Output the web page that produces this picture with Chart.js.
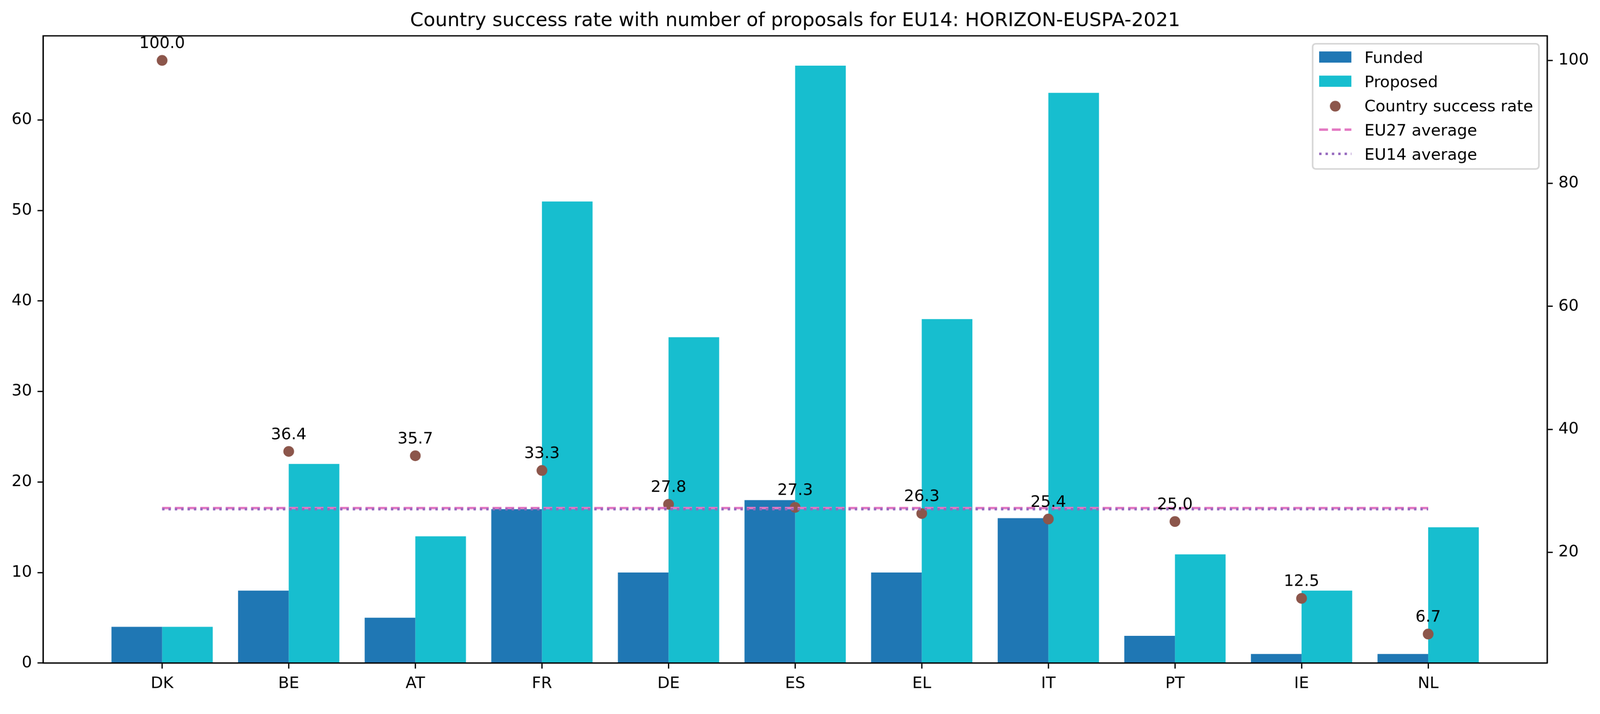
<!DOCTYPE html>
<html>
<head>
<meta charset="utf-8">
<script src="https://cdn.jsdelivr.net/npm/chart.js@4/dist/chart.umd.min.js"></script>
<style>
html,body{margin:0;padding:0;background:#fff;overflow:hidden;width:100%;height:100%}
canvas{display:block;width:100vw;height:43.8129vw}
</style>
</head>
<body>
<canvas id="c" width="4170" height="1827" style="width:100vw;height:43.8129vw"></canvas>
<script>
// ---- data ----
const countries = ['DK','BE','AT','FR','DE','ES','EL','IT','PT','IE','NL'];
const funded    = [4, 8, 5, 17, 10, 18, 10, 16, 3, 1, 1];
const proposed  = [4, 22, 14, 51, 36, 66, 38, 63, 12, 8, 15];
const successRate = [100.0, 36.4, 35.7, 33.3, 27.8, 27.3, 26.3, 25.4, 25.0, 12.5, 6.7];
const eu27Average = 27.2;
const eu14Average = 27.0;
const countTicks = [0, 10, 20, 30, 40, 50, 60];
const rateTicks  = [20, 40, 60, 80, 100];
const titleText = 'Country success rate with number of proposals for EU14: HORIZON-EUSPA-2021';
const legendLabels = ['Funded', 'Proposed', 'Country success rate', 'EU27 average', 'EU14 average'];

// ---- style ----
const PT = 300 / 72;
const FONT = '"DejaVu Sans", "Liberation Sans", sans-serif';
const FS = 10 * PT;
const C_FUNDED = '#1f77b4', C_PROPOSED = '#17becf', C_RATE = '#8c564b', C_EU27 = '#e377c2', C_EU14 = '#9467bd';
const AREA = {left: 112.3, right: 4032.3, top: 93.3, bottom: 1726.7};
const W = 4170, H = 1827;
const SPINE = 0.8 * PT;
const TICKLEN = 3.5 * PT;

const idx = countries.map((_, i) => i);
const lastIdx = countries.length - 1;

const tickGrid = {display: true, drawOnChartArea: false, drawTicks: true, tickLength: TICKLEN, tickWidth: SPINE, tickColor: '#000'};
const tickBorder = {display: true, color: '#000', width: SPINE};
const tickFont = {family: FONT, size: FS};

const overlay = {
  id: 'overlay',
  afterDatasetsDraw(chart) {
    const ctx = chart.ctx, ca = chart.chartArea;
    ctx.save();
    // frame
    ctx.strokeStyle = '#000';
    ctx.lineWidth = SPINE;
    ctx.strokeRect(ca.left, ca.top, ca.right - ca.left, ca.bottom - ca.top);
    // point labels
    const meta = chart.getDatasetMeta(2);
    ctx.fillStyle = '#000';
    ctx.font = FS + 'px ' + FONT;
    ctx.textAlign = 'center';
    ctx.textBaseline = 'alphabetic';
    meta.data.forEach((p, i) => {
      ctx.fillText(successRate[i].toFixed(1), p.x, p.y - 32);
    });
    ctx.restore();
  },
  afterDraw(chart) {
    const ctx = chart.ctx, ca = chart.chartArea;
    ctx.save();
    // title
    ctx.fillStyle = '#000';
    ctx.font = (12 * PT) + 'px ' + FONT;
    ctx.textAlign = 'center';
    ctx.textBaseline = 'alphabetic';
    ctx.fillText(titleText, (ca.left + ca.right) / 2, ca.top - 6 * PT);
    // legend
    const L = {left: 3421, top: 114, right: 4010.7, bottom: 440, r: 8};
    ctx.beginPath();
    ctx.roundRect(L.left, L.top, L.right - L.left, L.bottom - L.top, L.r);
    ctx.fillStyle = 'rgba(255,255,255,0.8)';
    ctx.fill();
    ctx.lineWidth = 1.0 * PT;
    ctx.strokeStyle = '#d6d6d6';
    ctx.stroke();
    const hx0 = 3438, hx1 = 3522, tx = 3556;
    const rowY = legendLabels.map((_, i) => 148.5 + 63 * i);
    // handles
    ctx.fillStyle = C_FUNDED;
    ctx.fillRect(hx0, rowY[0] - 14.6, hx1 - hx0, 29.2);
    ctx.fillStyle = C_PROPOSED;
    ctx.fillRect(hx0, rowY[1] - 14.6, hx1 - hx0, 29.2);
    ctx.fillStyle = C_RATE;
    ctx.beginPath();
    ctx.arc((hx0 + hx1) / 2, rowY[2] + 2, 14, 0, Math.PI * 2);
    ctx.fill();
    ctx.lineWidth = 1.5 * PT;
    ctx.lineCap = 'butt';
    ctx.strokeStyle = C_EU27;
    ctx.setLineDash([3.7 * 1.5 * PT, 1.6 * 1.5 * PT]);
    ctx.beginPath(); ctx.moveTo(hx0, rowY[3]); ctx.lineTo(hx1, rowY[3]); ctx.stroke();
    ctx.strokeStyle = C_EU14;
    ctx.setLineDash([1 * 1.5 * PT, 1.65 * 1.5 * PT]);
    ctx.beginPath(); ctx.moveTo(hx0, rowY[4]); ctx.lineTo(hx1, rowY[4]); ctx.stroke();
    ctx.setLineDash([]);
    // texts
    ctx.fillStyle = '#000';
    ctx.font = FS + 'px ' + FONT;
    ctx.textAlign = 'left';
    legendLabels.forEach((t, i) => ctx.fillText(t, tx, rowY[i] + 15));
    ctx.restore();
  }
};

new Chart(document.getElementById('c'), {
  type: 'bar',
  data: {
    datasets: [
      {type: 'bar', label: 'Funded', data: idx.map(i => ({x: i, y: funded[i]})), backgroundColor: C_FUNDED,
       borderWidth: 0, yAxisID: 'y', xAxisID: 'x', order: 3, categoryPercentage: 0.8, barPercentage: 1.0},
      {type: 'bar', label: 'Proposed', data: idx.map(i => ({x: i, y: proposed[i]})), backgroundColor: C_PROPOSED,
       borderWidth: 0, yAxisID: 'y', xAxisID: 'x', order: 3, categoryPercentage: 0.8, barPercentage: 1.0},
      {type: 'scatter', label: 'Country success rate', data: idx.map(i => ({x: i, y: successRate[i]})),
       backgroundColor: C_RATE, borderColor: C_RATE, pointRadius: 12.5, pointBorderWidth: 3, pointHoverRadius: 12.5,
       showLine: false, yAxisID: 'y1', xAxisID: 'x', order: 2},
      {type: 'line', label: 'EU27 average', data: [{x: 0, y: eu27Average}, {x: lastIdx, y: eu27Average}],
       borderColor: C_EU27, borderWidth: 1.5 * PT, borderDash: [3.7 * 1.5 * PT, 1.6 * 1.5 * PT], pointRadius: 0,
       fill: false, tension: 0, yAxisID: 'y1', xAxisID: 'x', order: 1},
      {type: 'line', label: 'EU14 average', data: [{x: 0, y: eu14Average}, {x: lastIdx, y: eu14Average}],
       borderColor: C_EU14, borderWidth: 1.5 * PT, borderDash: [1 * 1.5 * PT, 1.65 * 1.5 * PT], pointRadius: 0,
       fill: false, tension: 0, yAxisID: 'y1', xAxisID: 'x', order: 0}
    ]
  },
  options: {
    responsive: false,
    maintainAspectRatio: false,
    devicePixelRatio: 1,
    animation: false,
    events: [],
    layout: {padding: {top: AREA.top, left: 0, right: 0, bottom: 0}},
    plugins: {legend: {display: false}, title: {display: false}, tooltip: {enabled: false}},
    scales: {
      x: {
        type: 'linear', position: 'bottom', min: -0.94, max: 10.94, offset: false,
        grid: Object.assign({offset: false}, tickGrid), border: tickBorder,
        afterBuildTicks: s => { s.ticks = idx.map(v => ({value: v})); },
        ticks: {font: tickFont, color: '#000', padding: TICKLEN, maxRotation: 0, autoSkip: false,
                callback: v => countries[v]},
        afterFit: s => { s.height = H - AREA.bottom; }
      },
      y: {
        type: 'linear', position: 'left', min: 0, max: 69.3,
        grid: tickGrid, border: tickBorder,
        afterBuildTicks: s => { s.ticks = countTicks.map(v => ({value: v})); },
        ticks: {font: tickFont, color: '#000', padding: TICKLEN, align: 'near', callback: v => String(v)},
        afterFit: s => { s.width = AREA.left; }
      },
      y1: {
        type: 'linear', position: 'right', min: 1.99, max: 104.0,
        grid: tickGrid, border: tickBorder,
        afterBuildTicks: s => { s.ticks = rateTicks.map(v => ({value: v})); },
        ticks: {font: tickFont, color: '#000', padding: TICKLEN, align: 'near', callback: v => String(v)},
        afterFit: s => { s.width = W - AREA.right; }
      }
    }
  },
  plugins: [overlay]
});
</script>
</body>
</html>
